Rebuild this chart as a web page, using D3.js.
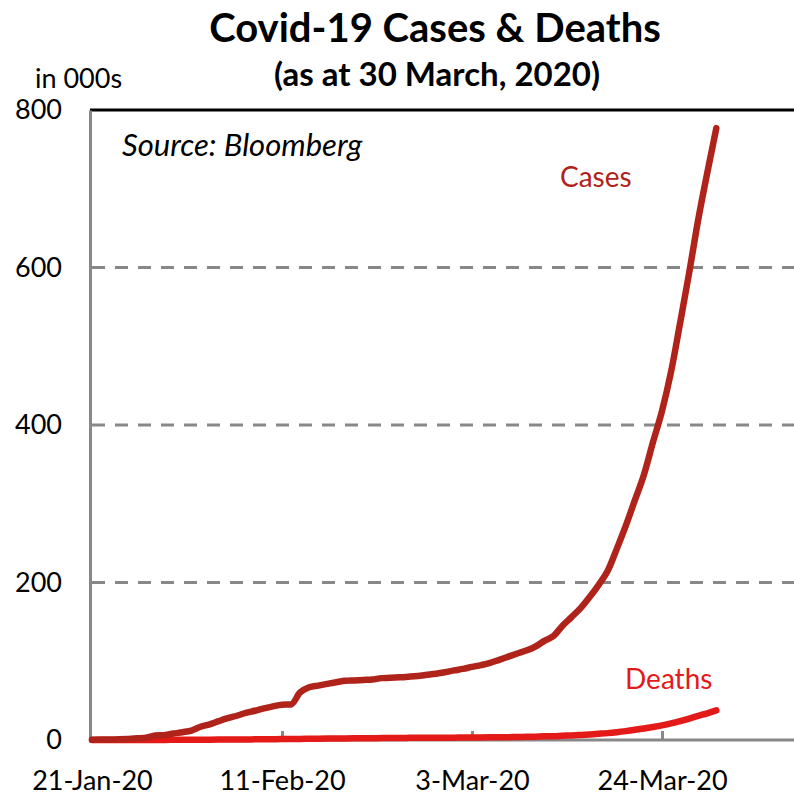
<!DOCTYPE html>
<head>
    <meta charset="utf-8">
    <style>
        body { margin: 0; background: #fff; }
        svg { font-family: Lato, "Open Sans", sans-serif; }
    </style>
    <script src="https://d3js.org/d3.v7.min.js"></script>
</head>
<body>
    <div id="block"></div>
    <script>

        // daily series, in thousands, 21-Jan-20 to 30-Mar-20
        var start_date = "2020-01-21";
        var cases = [
            0.3, 0.56, 0.65, 0.94, 1.43, 2.12, 2.93, 5.58, 6.17, 8.23, 9.93,
            12.04, 16.79, 19.88, 23.89, 27.64, 30.80, 34.39, 37.12, 40.15, 42.76,
            44.80, 45.22, 60.37, 66.89, 69.03, 71.23, 73.26, 75.14, 75.64, 76.20,
            76.84, 78.58, 78.97, 79.56, 80.41, 81.38, 82.74, 84.12, 86.01,
            88.4, 90.3, 92.8, 95.1, 97.9, 101.8, 105.8, 109.8, 113.6, 118.6,
            125.9, 132.0, 145.2, 156.1, 167.4, 181.5, 197.1, 214.9, 242.7, 272.2,
            304.5, 336.9, 378.2, 418.0, 467.7, 529.6, 593.3, 660.7, 720.1, 777.0
        ];
        var deaths = [
            0.006, 0.017, 0.018, 0.026, 0.042, 0.056, 0.082, 0.131, 0.133, 0.171, 0.213,
            0.259, 0.362, 0.426, 0.492, 0.564, 0.634, 0.719, 0.806, 0.906, 1.013,
            1.113, 1.118, 1.371, 1.523, 1.666, 1.770, 1.868, 2.007, 2.122, 2.247,
            2.251, 2.458, 2.469, 2.629, 2.708, 2.770, 2.814, 2.872, 2.941,
            2.996, 3.085, 3.160, 3.254, 3.348, 3.460, 3.558, 3.802, 3.988, 4.262,
            4.615, 4.720, 5.404, 5.819, 6.440, 7.126, 7.905, 8.733, 9.867, 11.299,
            12.973, 14.623, 16.497, 18.615, 21.181, 23.970, 27.198, 30.652, 33.925, 37.582
        ];
        var x_ticks = ["2020-01-21", "2020-02-11", "2020-03-03", "2020-03-24"];
        var y_ticks = [0, 200, 400, 600, 800];

        var w = 794,
            h = 795;

        var svg = d3.select("#block")
                    .append("svg")
                    .attr("width", w)
                    .attr("height", h);

        var parse = d3.timeParse("%Y-%m-%d");
        var fmt = d3.timeFormat("%-d-%b-%y");
        var day0 = parse(start_date);

        var x = d3.scaleTime()
                  .domain([day0, d3.timeDay.offset(day0, 78)])
                  .range([92, 92 + 78 * 9.048]);

        var y = d3.scaleLinear()
                  .domain([0, 800])
                  .range([740, 110]);

        var rows = cases.map(function(c, i) {
            return { date: d3.timeDay.offset(day0, i), cases: c, deaths: deaths[i] };
        });

        // titles
        svg.append("text")
           .attr("x", 435).attr("y", 42)
           .attr("text-anchor", "middle")
           .style("font-size", "40px").style("font-weight", "bold")
           .text("Covid-19 Cases & Deaths");

        svg.append("text")
           .attr("x", 437).attr("y", 86)
           .attr("text-anchor", "middle")
           .style("font-size", "33px").style("font-weight", "bold")
           .text("(as at 30 March, 2020)");

        svg.append("text")
           .attr("x", 35).attr("y", 88)
           .style("font-size", "27px")
           .text("in 000s");

        // gridlines
        svg.append("g")
           .selectAll("line")
           .data(y_ticks.filter(function(d) { return d > 0 && d < 800; }))
           .enter()
           .append("line")
           .attr("x1", 92).attr("x2", w)
           .attr("y1", y).attr("y2", y)
           .attr("stroke", "#888")
           .attr("stroke-width", 3)
           .attr("stroke-dasharray", "13,10");

        svg.append("line")
           .attr("x1", 90).attr("x2", w)
           .attr("y1", y(800)).attr("y2", y(800))
           .attr("stroke", "#000")
           .attr("stroke-width", 3);

        // y axis
        var yAxis = svg.append("g")
           .attr("transform", "translate(90,0)")
           .call(d3.axisLeft(y).tickValues(y_ticks).tickSize(0).tickPadding(28));
        yAxis.select(".domain").attr("stroke", "#888").attr("stroke-width", 3);
        yAxis.selectAll("text")
             .style("font-size", "27px")
             .style("font-family", "Lato, 'Open Sans', sans-serif")
             .attr("fill", "#000");

        // x axis
        var xAxis = svg.append("g")
           .attr("transform", "translate(0,740)")
           .call(d3.axisBottom(x)
                   .tickValues(x_ticks.map(parse))
                   .tickFormat(fmt)
                   .tickSize(-9)
                   .tickPadding(31));
        xAxis.select(".domain").attr("stroke", "#888").attr("stroke-width", 3)
             .attr("d", "M90,0H" + w);
        xAxis.selectAll(".tick line").attr("stroke", "#888").attr("stroke-width", 3);
        xAxis.selectAll(".tick").filter(function(d, i) { return i === 0; })
             .select("line").remove();
        xAxis.selectAll("text")
             .style("font-size", "27px")
             .style("font-family", "Lato, 'Open Sans', sans-serif")
             .attr("fill", "#000");

        // lines
        var deathLine = d3.line()
                          .curve(d3.curveMonotoneX)
                          .x(function(d) { return x(d.date); })
                          .y(function(d) { return y(d.deaths); });
        var caseLine = d3.line()
                         .curve(d3.curveMonotoneX)
                         .x(function(d) { return x(d.date); })
                         .y(function(d) { return y(d.cases); });

        svg.append("path")
           .datum(rows)
           .attr("d", deathLine)
           .attr("fill", "none")
           .attr("stroke", "#e31a17")
           .attr("stroke-width", 6.5)
           .attr("stroke-linecap", "round")
           .attr("stroke-linejoin", "round");

        svg.append("path")
           .datum(rows)
           .attr("d", caseLine)
           .attr("fill", "none")
           .attr("stroke", "#b0231a")
           .attr("stroke-width", 6.5)
           .attr("stroke-linecap", "round")
           .attr("stroke-linejoin", "round");

        // labels
        svg.append("text")
           .attr("x", 122).attr("y", 156)
           .style("font-size", "31px").style("font-style", "italic")
           .text("Source: Bloomberg");

        svg.append("text")
           .attr("x", 560).attr("y", 187)
           .style("font-size", "28px")
           .attr("fill", "#b0231a")
           .text("Cases");

        svg.append("text")
           .attr("x", 625).attr("y", 689)
           .style("font-size", "28px")
           .attr("fill", "#e31a17")
           .text("Deaths");

    </script>
</body>
